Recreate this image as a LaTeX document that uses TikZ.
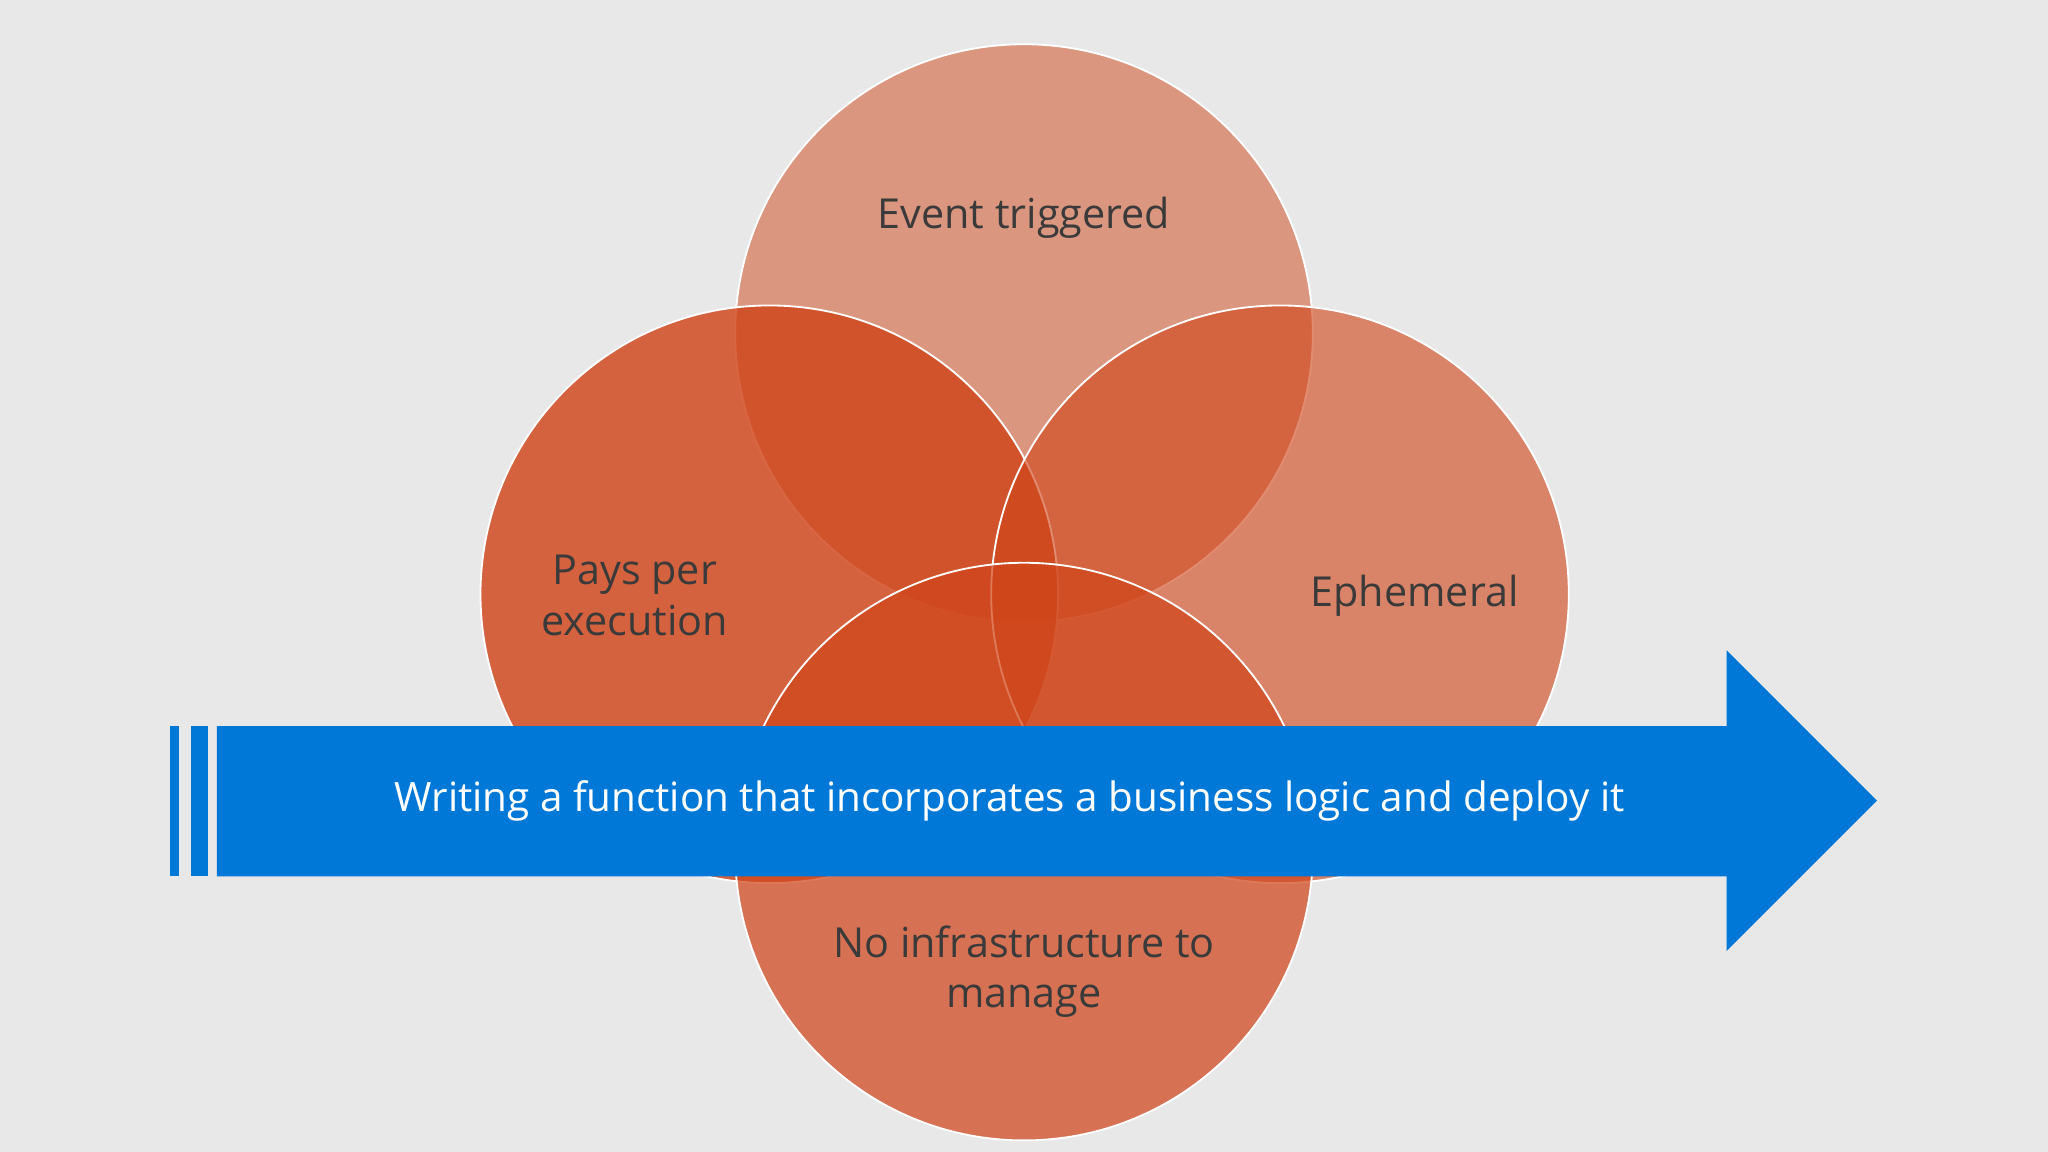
\documentclass[tikz,border=0pt]{standalone}
\usepackage{fontspec}
\setmainfont{Open Sans}
\usepackage{xcolor}
\definecolor{bgGray}{HTML}{E8E8E8}
\definecolor{vennOrange}{HTML}{D0451A}
\definecolor{labelText}{HTML}{3A3A3A}
\definecolor{flowBlue}{HTML}{0078D7}
\tikzset{
    venn-circle/.style = {circle, draw=white, thin, fill=vennOrange, minimum size=4.42cm, inner sep=0pt},
    venn-label/.style = {text=labelText, font=\fontsize{9}{11}\selectfont, align=center},
    flow-text/.style = {text=white, font=\fontsize{8.8}{11}\selectfont},
}

\begin{document}
\begin{tikzpicture}[x=0.01cm, y=-0.01cm]
\fill[bgGray] (0,0) rectangle (1568,882);
\useasboundingbox (0,0) rectangle (1568,882);
% circles
\node[venn-circle, fill opacity=0.5] (top) at (784,255) {};
\node[venn-circle, fill opacity=0.82] (left) at (589,455) {};
\node[venn-circle, fill opacity=0.62] (right) at (980,455) {};
\node[venn-circle, fill opacity=0.72] (bottom) at (784,652) {};
\node[venn-label] (top-label) at (784,167) {Event triggered};
\node[venn-label] (left-label) at (486,456) {Pays per\\execution};
\node[venn-label] (right-label) at (1083,456) {Ephemeral};
\node[venn-label] (bottom-label) at (784,744) {No infrastructure to\\manage};
% arrow
\fill[flowBlue] (130,556) rectangle (137,671);
\fill[flowBlue] (146,556) rectangle (159,671);
\fill[flowBlue] (166,556) -- (1322,556) -- (1322,498) -- (1437,613) -- (1322,728) -- (1322,671) -- (166,671) -- cycle;
\node[flow-text] (flow-label) at (773,613) {Writing a function that incorporates a business logic and deploy it};
\end{tikzpicture}
\end{document}
